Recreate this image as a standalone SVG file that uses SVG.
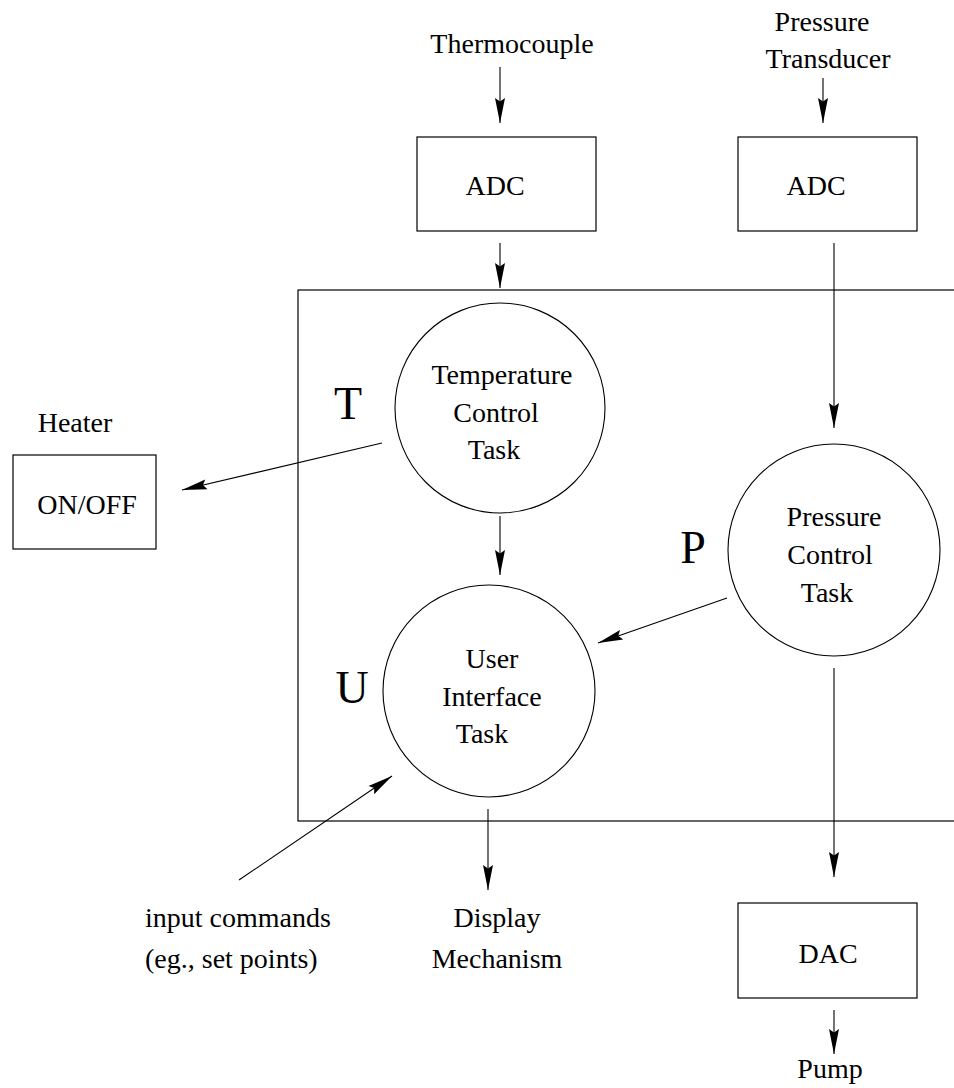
<svg xmlns="http://www.w3.org/2000/svg" width="954" height="1088" viewBox="0 0 954 1088">
  <style>
    .box { fill: none; stroke: #000; stroke-width: 1.2; }
    .task { fill: none; stroke: #000; stroke-width: 1.1; }
    .wire { fill: none; stroke: #000; stroke-width: 1.1; marker-end: url(#ah); }
    .lbl { font-family: "Liberation Serif", "Times New Roman", serif; font-size: 28px; fill: #000; text-anchor: middle; }
    .lft { text-anchor: start; }
    .big { font-family: "Liberation Serif", "Times New Roman", serif; font-size: 46px; fill: #000; text-anchor: middle; }
  </style>
  <defs>
    <marker id="ah" viewBox="-26 -6 27 12" refX="0" refY="0" markerWidth="27" markerHeight="12" markerUnits="userSpaceOnUse" orient="auto">
      <path d="M0,0 L-25,-5 L-21.5,0 L-25,5 Z" fill="#000"/>
    </marker>
  </defs>
  <rect width="954" height="1088" fill="#fff"/>

  <!-- controller boundary (open on the right) -->
  <g id="controller">
    <rect class="box" x="298" y="290" width="700" height="531"/>
  </g>

  <g id="thermocouple">
    <text class="lbl" x="512" y="53">Thermocouple</text>
  </g>
  <g id="transducer">
    <text class="lbl" x="822" y="31">Pressure</text>
    <text class="lbl" x="828" y="68">Transducer</text>
  </g>

  <g id="adc-temp">
    <rect class="box" x="417" y="137" width="179" height="94"/>
    <text class="lbl" x="495" y="195">ADC</text>
  </g>
  <g id="adc-press">
    <rect class="box" x="738" y="137" width="179" height="94"/>
    <text class="lbl" x="816" y="195">ADC</text>
  </g>

  <g id="heater">
    <text class="lbl" x="75" y="432">Heater</text>
    <rect class="box" x="13" y="455" width="143" height="94"/>
    <text class="lbl" x="87" y="514">ON/OFF</text>
  </g>

  <g id="task-t">
    <circle class="task" cx="500" cy="408" r="105"/>
    <text class="lbl" x="502" y="384">Temperature</text>
    <text class="lbl" x="496" y="422">Control</text>
    <text class="lbl" x="494" y="459">Task</text>
    <text class="big" x="348" y="419">T</text>
  </g>

  <g id="task-p">
    <circle class="task" cx="834" cy="550" r="106"/>
    <text class="lbl" x="834" y="526">Pressure</text>
    <text class="lbl" x="830" y="564">Control</text>
    <text class="lbl" x="827" y="602">Task</text>
    <text class="big" x="693" y="563">P</text>
  </g>

  <g id="task-u">
    <circle class="task" cx="489" cy="691" r="106"/>
    <text class="lbl" x="492" y="668">User</text>
    <text class="lbl" x="492" y="706">Interface</text>
    <text class="lbl" x="482" y="743">Task</text>
    <text class="big" x="352" y="703">U</text>
  </g>

  <g id="input">
    <text class="lbl lft" x="145" y="927">input commands</text>
    <text class="lbl lft" x="145" y="968">(eg., set points)</text>
  </g>

  <g id="display">
    <text class="lbl" x="497" y="927">Display</text>
    <text class="lbl" x="497" y="968">Mechanism</text>
  </g>

  <g id="dac">
    <rect class="box" x="738" y="903" width="179" height="95"/>
    <text class="lbl" x="828" y="963">DAC</text>
  </g>

  <g id="pump">
    <text class="lbl" x="830" y="1078">Pump</text>
  </g>

  <!-- signal flow -->
  <g id="connectors">
    <line class="wire" x1="500" y1="67" x2="500" y2="123"/>
    <line class="wire" x1="823" y1="78" x2="823" y2="123"/>
    <line class="wire" x1="500" y1="243" x2="500" y2="288"/>
    <line class="wire" x1="834" y1="243" x2="834" y2="428"/>
    <line class="wire" x1="382" y1="443" x2="182" y2="490"/>
    <line class="wire" x1="500" y1="516" x2="500" y2="575"/>
    <line class="wire" x1="727" y1="598" x2="598" y2="643"/>
    <line class="wire" x1="239" y1="880" x2="392" y2="776"/>
    <line class="wire" x1="488" y1="809" x2="488" y2="890"/>
    <line class="wire" x1="834" y1="668" x2="834" y2="877"/>
    <line class="wire" x1="834" y1="1010" x2="834" y2="1054"/>
  </g>
</svg>
